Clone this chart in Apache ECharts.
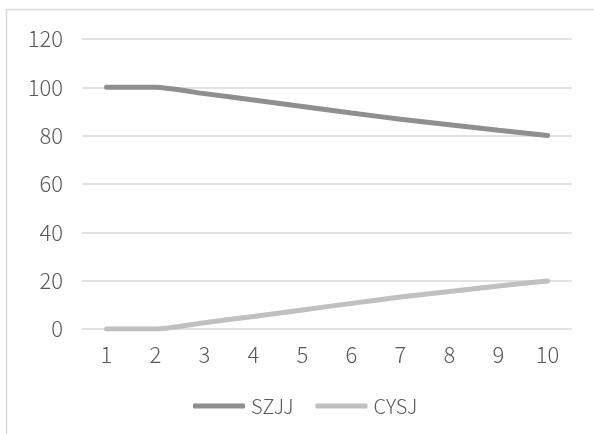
<!DOCTYPE html>
<html>
<head>
<meta charset="utf-8">
<script src="https://cdn.jsdelivr.net/npm/echarts@6/dist/echarts.min.js"></script>
<style>html,body{margin:0;padding:0;background:#fff;}#c{width:594px;height:434px;}</style>
</head>
<body>
<div id="c"></div>
<script>
var categories = ['1','2','3','4','5','6','7','8','9','10'];
var szjj = [100, 100, 97.4, 94.8, 92.1, 89.4, 86.8, 84.5, 82.2, 80.1];
var cysj = [0, 0, 2.6, 5.2, 7.9, 10.6, 13.2, 15.5, 17.8, 19.9];
var seriesNames = ['SZJJ', 'CYSJ'];

var chart = echarts.init(document.getElementById('c'));
var font = '"Noto Sans CJK SC", "Noto Sans", sans-serif';
chart.setOption({
  animation: false,
  backgroundColor: '#fff',
  graphic: [{
    type: 'rect', silent: true,
    shape: { x: 6.5, y: 9.5, width: 700, height: 600 },
    style: { fill: 'none', stroke: '#d9d9d9', lineWidth: 1.5 }
  }],
  grid: { left: 82, right: 22, top: 39, bottom: 105 },
  legend: {
    top: 391, left: 188,
    itemWidth: 52, itemHeight: 5, itemGap: 22,
    icon: 'roundRect',
    textStyle: { fontFamily: font, fontWeight: 300, fontSize: 20, color: '#595959', padding: [0, 0, 0, 1] },
    data: seriesNames
  },
  xAxis: {
    type: 'category', data: categories, boundaryGap: true,
    axisLine: { show: false }, axisTick: { show: false },
    axisLabel: { fontFamily: font, fontWeight: 300, fontSize: 22, color: '#595959', margin: 15 }
  },
  yAxis: {
    type: 'value', min: 0, max: 120, interval: 20,
    axisLine: { show: false }, axisTick: { show: false },
    axisLabel: { fontFamily: font, fontWeight: 300, fontSize: 22, color: '#595959', margin: 19 },
    splitLine: { lineStyle: { color: '#d9d9d9', width: 1.5 } }
  },
  series: [
    { name: seriesNames[0], type: 'line', data: szjj, smooth: 0.2, symbol: 'none',
      lineStyle: { color: '#8f8f8f', width: 5, cap: 'round' }, itemStyle: { color: '#8f8f8f' } },
    { name: seriesNames[1], type: 'line', data: cysj, smooth: 0.2, symbol: 'none',
      lineStyle: { color: '#c0c0c0', width: 5, cap: 'round' }, itemStyle: { color: '#c0c0c0' } }
  ]
});
</script>
</body>
</html>
